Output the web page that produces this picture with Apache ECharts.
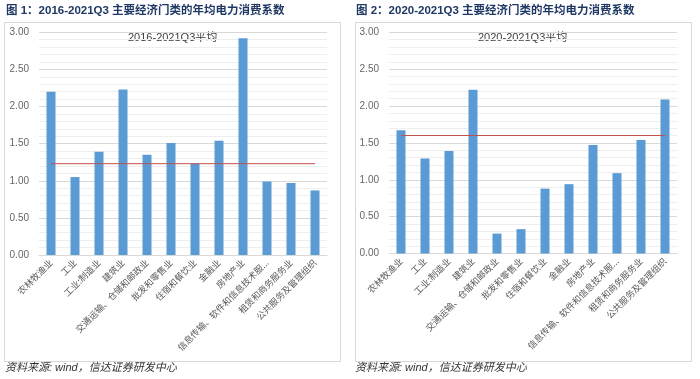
<!DOCTYPE html>
<html><head><meta charset="utf-8">
<script src="https://cdn.jsdelivr.net/npm/echarts@6/dist/echarts.min.js"></script>
<style>html,body{margin:0;padding:0;background:#fff}#c{width:700px;height:379px}</style>
</head><body><div id="c"></div>
<script>
const categories = ['农林牧渔业','工业','工业:制造业','建筑业','交通运输、仓储和邮政业','批发和零售业','住宿和餐饮业','金融业','房地产业','信息传输、软件和信息技术服务业','租赁和商务服务业','公共服务及管理组织'];
const values2016 = [2.20,1.05,1.39,2.23,1.35,1.51,1.23,1.54,2.92,0.99,0.97,0.87];
const avg2016 = 1.23;
const values2020 = [1.67,1.29,1.39,2.22,0.27,0.33,0.88,0.94,1.47,1.09,1.54,2.09];
const avg2020 = 1.60;
const yTicks = [0,0.5,1,1.5,2,2.5,3];
const title1 = '图 1：2016-2021Q3 主要经济门类的年均电力消费系数';
const title2 = '图 2：2020-2021Q3 主要经济门类的年均电力消费系数';
const avgName1 = '2016-2021Q3平均';
const avgName2 = '2020-2021Q3平均';
const sourceText = '资料来源: wind，信达证券研发中心';

const chart = echarts.init(document.getElementById('c'), null, {renderer:'canvas'});
const font = "'Liberation Sans', 'Noto Sans CJK SC', sans-serif";
function xAxis(i){
  return {type:'category', gridIndex:i, data:categories,
    axisLine:{show:true, lineStyle:{color:'#d9d9d9'}}, axisTick:{show:false},
    axisLabel:{rotate:45, interval:0, fontSize:9, color:'#595959', margin:6, fontFamily:"'Noto Sans CJK SC'",
      formatter:v=> v.length>14 ? v.slice(0,13)+'...' : v}};
}
function yAxis(i){
  return {type:'value', gridIndex:i, min:yTicks[0], max:yTicks[yTicks.length-1], interval:0.5,
    axisLine:{show:false}, axisTick:{show:false},
    axisLabel:{fontSize:10, color:'#666666', margin:10, fontFamily:"'Liberation Sans', sans-serif", formatter:v=>v.toFixed(2)},
    splitLine:{lineStyle:{color:'#d9d9d9'}},
    minorTick:{show:false, splitNumber:5},
    minorSplitLine:{show:true, lineStyle:{color:'#eeeeee'}}};
}
function txt(left, top, text, size, weight, style, color){
  return {type:'text', left, top, style:{text, fontSize:size, fontWeight:weight, fontStyle:style, fontFamily:font, fill:color}};
}
chart.setOption({
  animation:false,
  grid:[{left:39, width:288, top:32.3, bottom:124},{left:389, width:288, top:32.3, bottom:125.5}],
  xAxis:[xAxis(0), xAxis(1)],
  yAxis:[yAxis(0), yAxis(1)],
  series:[
    {type:'bar', xAxisIndex:0, yAxisIndex:0, data:values2016, barWidth:9, itemStyle:{color:'#5B9BD5'}},
    {type:'line', name:avgName1, xAxisIndex:0, yAxisIndex:0, data:categories.map(()=>avg2016), symbol:'none', lineStyle:{color:'#C0504D', width:1}},
    {type:'bar', xAxisIndex:1, yAxisIndex:1, data:values2020, barWidth:9, itemStyle:{color:'#5B9BD5'}},
    {type:'line', name:avgName2, xAxisIndex:1, yAxisIndex:1, data:categories.map(()=>avg2020), symbol:'none', lineStyle:{color:'#C0504D', width:1}}
  ],
  graphic:[
    {type:'rect', shape:{x:4.5, y:22.5, width:336, height:339}, style:{fill:'none', stroke:'#d9d9d9', lineWidth:1}, z:-1},
    {type:'rect', shape:{x:355.5, y:22.5, width:336, height:339}, style:{fill:'none', stroke:'#d9d9d9', lineWidth:1}, z:-1},
    txt(6, 5, title1, 11.5, 'bold', 'normal', '#1F3864'),
    txt(356, 5, title2, 11.5, 'bold', 'normal', '#1F3864'),
    txt(128, 32, avgName1, 11, 'normal', 'normal', '#404040'),
    txt(478, 32, avgName2, 11, 'normal', 'normal', '#404040'),
    txt(5, 362, sourceText, 11, 'normal', 'italic', '#333333'),
    txt(355, 362, sourceText, 11, 'normal', 'italic', '#333333')
  ]
});
</script></body></html>
